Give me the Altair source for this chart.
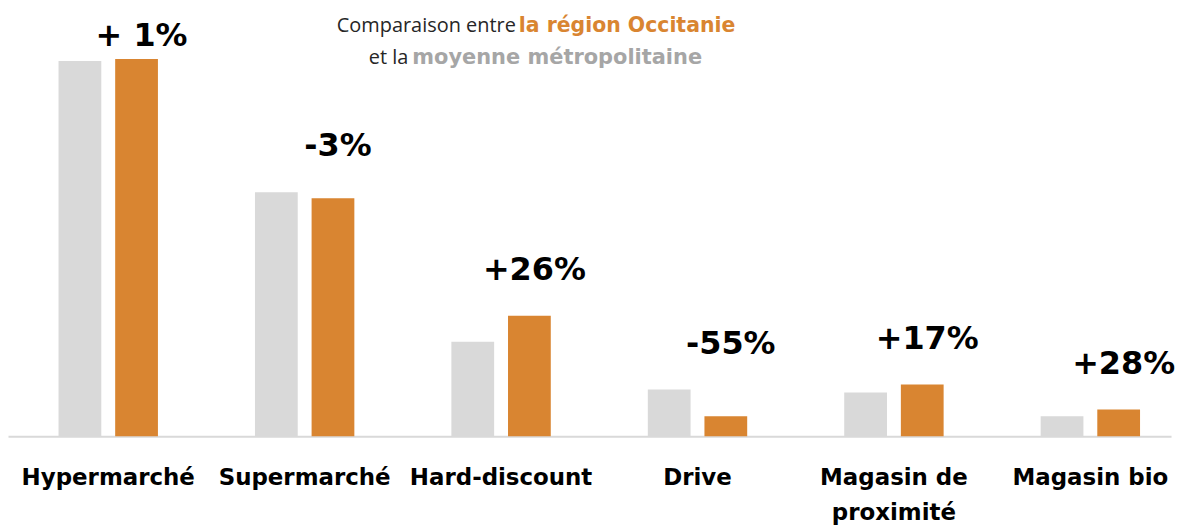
import altair as alt
import pandas as pd

categories = ["Hypermarché", "Supermarché", "Hard-discount", "Drive",
              "Magasin de proximité", "Magasin bio"]
moyenne_metropole = [37.7, 24.5, 9.5, 4.7, 4.4, 2.0]
occitanie = [37.9, 23.9, 12.1, 2.0, 5.2, 2.7]
ecarts = ["+ 1%", "-3%", "+26%", "-55%", "+17%", "+28%"]

series = ["Moyenne métropolitaine", "Occitanie"]
colors = ["#d9d9d9", "#d98531"]

long = pd.DataFrame({
    "categorie": categories * 2,
    "serie": [series[0]] * len(categories) + [series[1]] * len(categories),
    "valeur": moyenne_metropole + occitanie,
})
wide = pd.DataFrame({
    "categorie": categories,
    "metro": moyenne_metropole,
    "occ": occitanie,
    "ecart": ecarts,
    "serie": [series[1]] * len(categories),
})

x_scale = alt.Scale(domain=categories, paddingInner=0.494, paddingOuter=0.2075, align=0.62)
xo_scale = alt.Scale(domain=series, paddingInner=0.245, paddingOuter=0)
y_scale = alt.Scale(domain=[0, 42.9], nice=False, zero=True)

x_axis = alt.Axis(title=None, domain=True, domainColor="#d9d9d9", domainWidth=2,
                  ticks=False, grid=False, labelAngle=0, labelFont="DejaVu Sans",
                  labelFontWeight="bold", labelFontSize=23, labelColor="#000000",
                  labelPadding=30, labelLineHeight=36, labelLimit=0,
                  labelExpr="datum.value == 'Magasin de proximité' ? ['Magasin de', 'proximité'] : datum.label")

bars = alt.Chart(long).mark_bar().encode(
    x=alt.X("categorie:N", scale=x_scale, sort=categories, axis=x_axis),
    xOffset=alt.XOffset("serie:N", scale=xo_scale, sort=series),
    y=alt.Y("valeur:Q", scale=y_scale, axis=None),
    color=alt.Color("serie:N", scale=alt.Scale(domain=series, range=colors), legend=None),
)

labels = alt.Chart(wide).transform_calculate(
    ly="min(max(datum.metro, datum.occ) + 4.6, 40.2)"
).mark_text(font="DejaVu Sans", fontWeight="bold", fontSize=32, color="#000000",
            baseline="middle", dx=5).encode(
    x=alt.X("categorie:N", scale=x_scale, sort=categories, axis=x_axis),
    xOffset=alt.XOffset("serie:N", scale=xo_scale, sort=series),
    y=alt.Y("ly:Q", scale=y_scale, axis=None),
    text="ecart:N",
)

title_df = pd.DataFrame({"a": ["Comparaison entre"], "b": ["la région Occitanie"],
                         "c": ["et la"], "d": ["moyenne métropolitaine"]})
t1 = alt.Chart(title_df).mark_text(font="Open Sans", fontSize=20, color="#262626", align="right",
                                   baseline="middle").encode(
    x=alt.value(510), y=alt.value(17), text="a:N")
t2 = alt.Chart(title_df).mark_text(font="DejaVu Sans", fontSize=20.5, fontWeight="bold",
                                   color="#d98531", align="left", baseline="middle").encode(
    x=alt.value(513), y=alt.value(17), text="b:N")
t3 = alt.Chart(title_df).mark_text(font="Open Sans", fontSize=20, color="#262626", align="right",
                                   baseline="middle").encode(
    x=alt.value(402), y=alt.value(49), text="c:N")
t4 = alt.Chart(title_df).mark_text(font="DejaVu Sans", fontSize=21, fontWeight="bold",
                                   color="#a6a6a6", align="left", baseline="middle").encode(
    x=alt.value(406), y=alt.value(49), text="d:N")

chart = alt.layer(bars, labels, t1, t2, t3, t4).properties(
    width=1168, height=429, padding=0
).configure_view(stroke=None)

chart.save("out.html", embed_options={"renderer": "svg", "actions": False})
